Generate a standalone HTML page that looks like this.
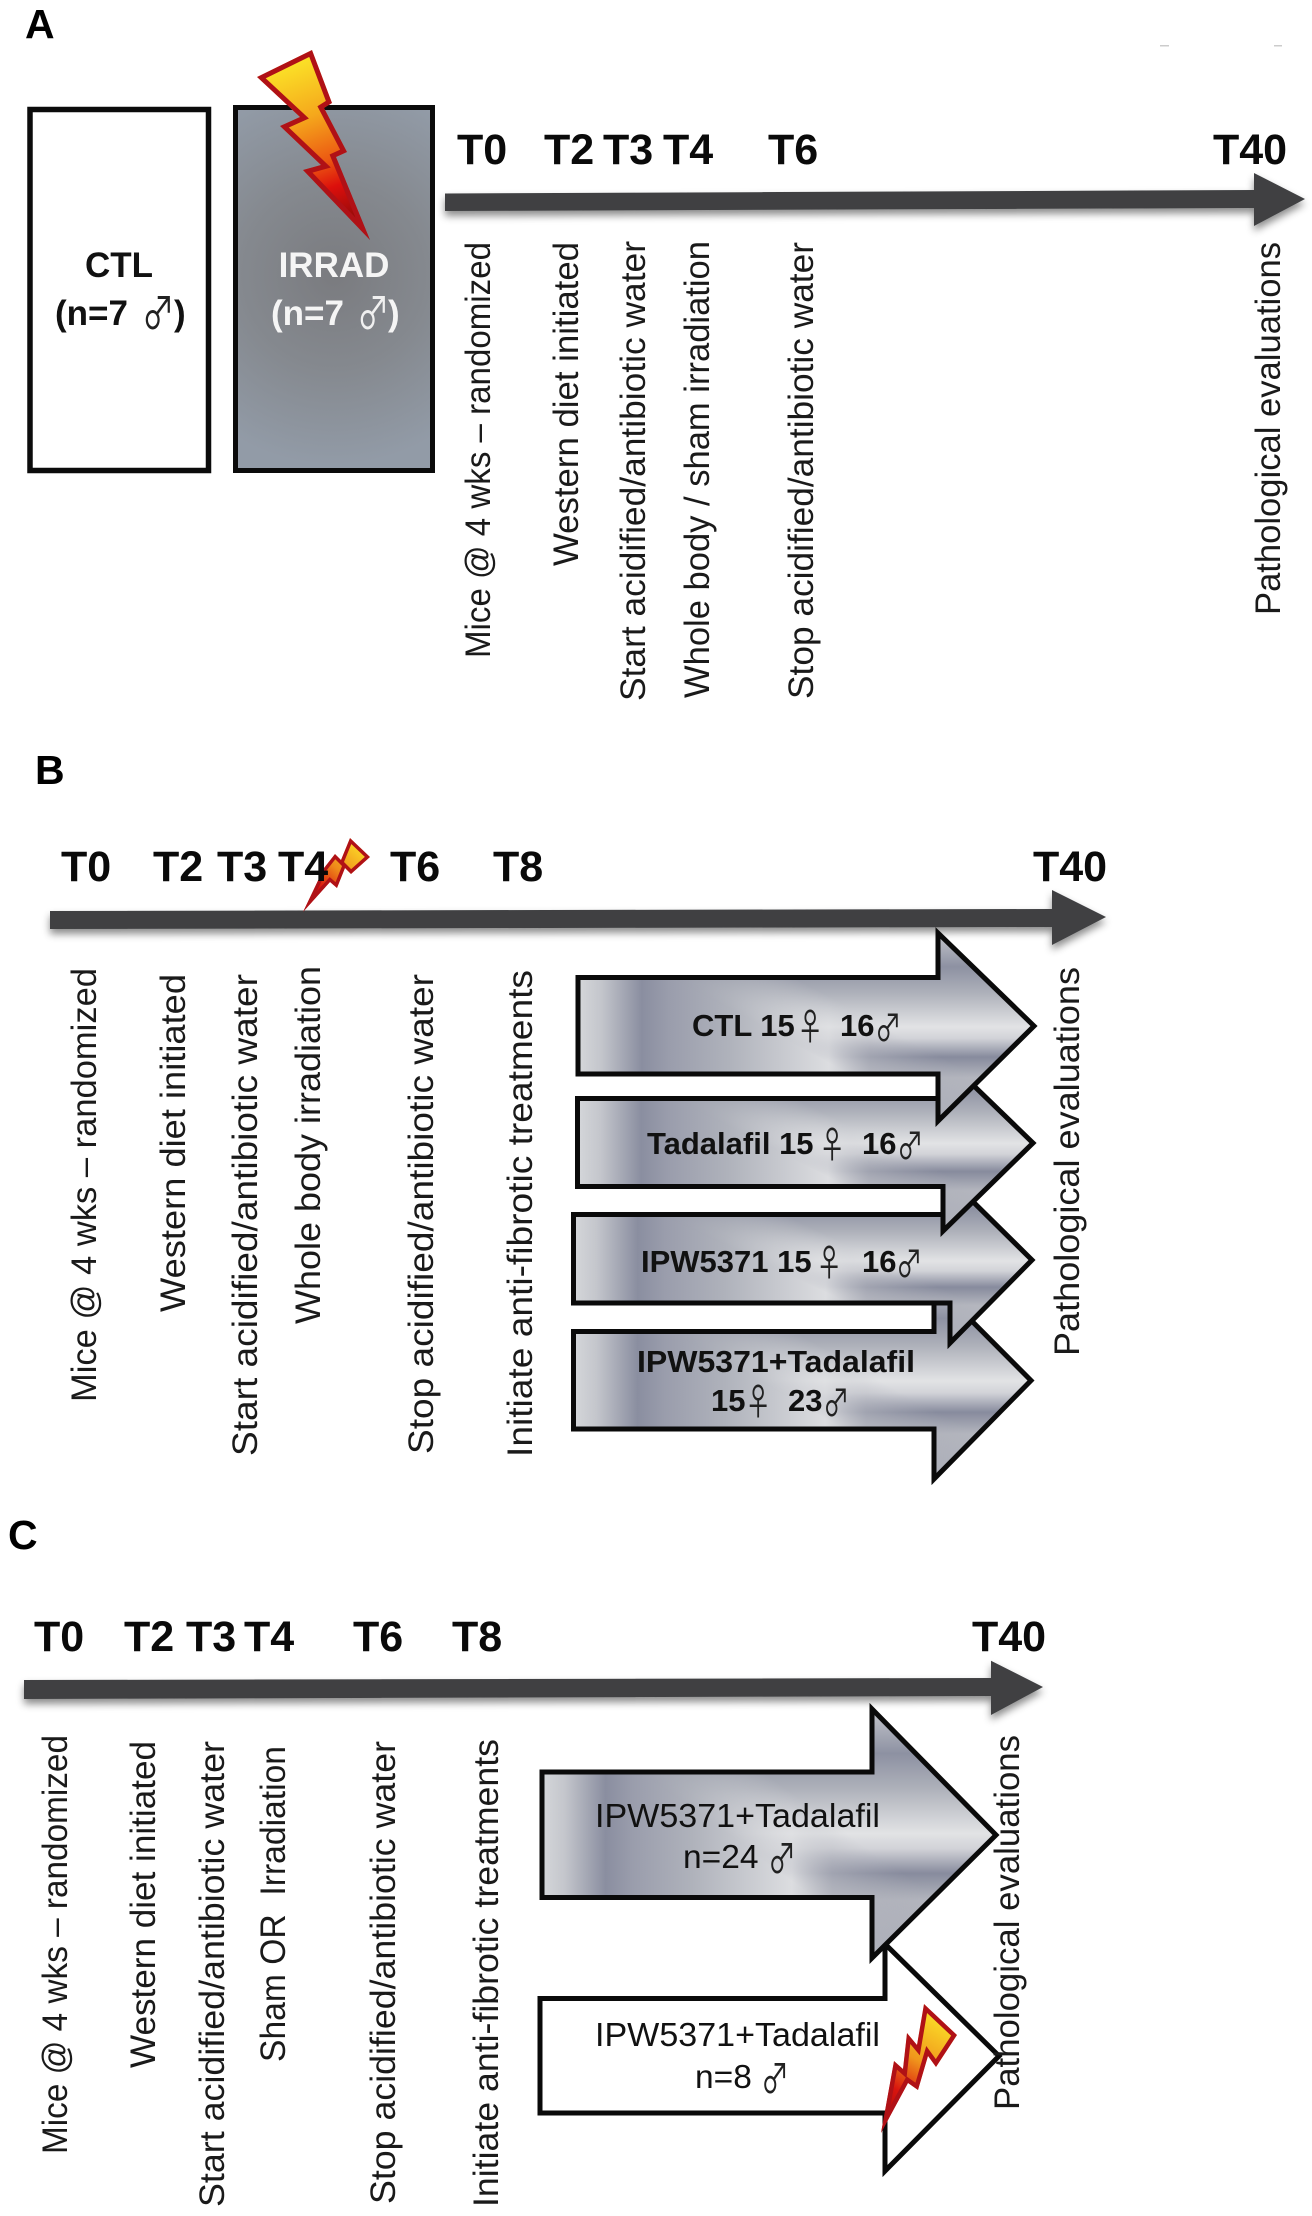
<!DOCTYPE html>
<html><head><meta charset="utf-8"><title>Study timeline</title>
<style>
html,body{margin:0;padding:0;background:#fff;width:1312px;height:2216px;overflow:hidden}
svg{display:block}
text{font-family:"Liberation Sans",Arial,sans-serif;fill:#111}
.h{font-weight:bold;font-size:43px;fill:#0a0a0a}
.p{font-weight:bold;font-size:41px;fill:#000}
.r{font-size:35.5px;fill:#1a1a1a}
.b{font-weight:bold;font-size:31px}
.n{font-size:33.5px}
.s{font-family:"Noto Sans CJK JP","DejaVu Sans",sans-serif;font-size:31px;fill:#222}
</style></head><body>
<svg xmlns="http://www.w3.org/2000/svg" width="1312" height="2216" viewBox="0 0 1312 2216">
<defs>
<linearGradient id="base" x1="0" y1="0" x2="1" y2="0">
<stop offset="0" stop-color="#d5d7da"/><stop offset=".05" stop-color="#c4c6cc"/><stop offset=".14" stop-color="#8a8ea0"/><stop offset=".2" stop-color="#9a9dac"/><stop offset=".33" stop-color="#afb2bb"/><stop offset=".55" stop-color="#dcdde0"/><stop offset=".64" stop-color="#b4b6bf"/><stop offset="1" stop-color="#a0a3af"/>
</linearGradient>
<linearGradient id="vert" x1="0" y1="0" x2="0" y2="1">
<stop offset="0" stop-color="#c4c6cc"/><stop offset=".18" stop-color="#8d91a2"/><stop offset=".32" stop-color="#aeb1ba"/><stop offset=".5" stop-color="#e2e3e5"/><stop offset=".56" stop-color="#d2d3d8"/><stop offset=".66" stop-color="#878b9d"/><stop offset=".77" stop-color="#b4b6be"/><stop offset=".9" stop-color="#b6b8c0"/><stop offset="1" stop-color="#c4c6cc"/>
</linearGradient>
<linearGradient id="mg" x1=".45" y1=".56" x2=".62" y2=".43">
<stop offset="0" stop-color="#000"/><stop offset="1" stop-color="#fff"/>
</linearGradient>
<mask id="m" maskUnits="objectBoundingBox" maskContentUnits="objectBoundingBox" x="0" y="0" width="1" height="1">
<rect x="0" y="0" width="1" height="1" fill="url(#mg)"/>
</mask>
<radialGradient id="irr" gradientUnits="userSpaceOnUse" cx="334" cy="275" r="190">
<stop offset="0" stop-color="#7a7b7f"/><stop offset=".5" stop-color="#85898f"/><stop offset="1" stop-color="#929ba7"/>
</radialGradient>
<linearGradient id="bolt" gradientUnits="userSpaceOnUse" x1="300" y1="60" x2="365" y2="235">
<stop offset="0" stop-color="#fbe127"/><stop offset=".3" stop-color="#f5a81c"/><stop offset=".55" stop-color="#ec5a12"/><stop offset=".7" stop-color="#dc0f0c"/><stop offset="1" stop-color="#6f0909"/>
</linearGradient>
<linearGradient id="bolt2" gradientUnits="userSpaceOnUse" x1="360" y1="845" x2="306" y2="908">
<stop offset="0" stop-color="#fbd827"/><stop offset=".4" stop-color="#ef8a1a"/><stop offset=".7" stop-color="#d9140e"/><stop offset="1" stop-color="#a00c0c"/>
</linearGradient>
<linearGradient id="bolt3" gradientUnits="userSpaceOnUse" x1="945" y1="2020" x2="885" y2="2125">
<stop offset="0" stop-color="#fbdd27"/><stop offset=".4" stop-color="#f0961c"/><stop offset=".7" stop-color="#d9140e"/><stop offset="1" stop-color="#a50c0c"/>
</linearGradient>
<clipPath id="c1"><polygon points="312,50 332,103 324,108 347,152 336,157 370,240 303,170 321,165 280,126 300,117 257,77"/></clipPath>
<clipPath id="c2"><polygon points="350,838 370,857 351,874 345,868 337,888 330,882 303,912 324,868 335,854 341,860"/></clipPath>
<clipPath id="c3"><polygon points="924,2004 957,2035 936,2067 928,2056 918,2090 908,2083 881,2133 894,2061 903,2069 907,2033 917,2045"/></clipPath>
<filter id="sh" x="-5%" y="-60%" width="110%" height="240%"><feDropShadow dx="0" dy="5" stdDeviation="4" flood-color="#000" flood-opacity=".45"/></filter>
<polygon id="a1" points="578,977.5 938,977.5 938,933 1034,1026 938,1121 938,1074 578,1074"/>
<polygon id="a2" points="577.5,1098.5 943,1098.5 943,1056 1033,1143 943,1231 943,1186.5 577.5,1186.5"/>
<polygon id="a3" points="573.5,1214.5 950,1214.5 950,1179 1032,1260 950,1343 950,1303 573.5,1303"/>
<polygon id="a4" points="573.5,1331.5 934,1331.5 934,1283 1031,1380.5 934,1479 934,1429 573.5,1429"/>
<polygon id="a5" points="542,1772 872,1772 872,1709 996,1835 872,1958 872,1897.5 542,1897.5"/>
</defs>
<rect width="1312" height="2216" fill="#fff"/>

<rect x="1160" y="45" width="9" height="1.5" fill="#ccc"/><rect x="1274" y="45" width="8" height="1.5" fill="#ccc"/>

<!-- PANEL A -->
<text class="p" x="25" y="38">A</text>
<rect x="30" y="109.5" width="178.5" height="361" fill="#fff" stroke="#0b0b0b" stroke-width="5.5"/>
<rect x="235.5" y="107.5" width="197" height="363" fill="url(#irr)" stroke="#0b0b0b" stroke-width="5"/>
<g clip-path="url(#c1)"><polygon points="312,50 332,103 324,108 347,152 336,157 370,240 303,170 321,165 280,126 300,117 257,77" fill="url(#bolt)" stroke="#b01116" stroke-width="10"/></g>
<text x="119" y="277" text-anchor="middle" font-weight="bold" font-size="35">CTL</text>
<text x="55" y="325" font-weight="bold" font-size="35">(n=7</text>
<text class="s" transform="translate(142,329) scale(.95,1.3)" style="font-size:34px">♂</text>
<text x="174" y="325" font-weight="bold" font-size="35">)</text>
<text x="334" y="277" text-anchor="middle" font-weight="bold" font-size="35" style="fill:#f5f5f5">IRRAD</text>
<text x="271" y="325" font-weight="bold" font-size="35" style="fill:#f5f5f5">(n=7</text>
<text class="s" transform="translate(357,329) scale(.95,1.3)" style="font-size:34px;fill:#f0f0f0">♂</text>
<text x="388" y="325" font-weight="bold" font-size="35" style="fill:#f5f5f5">)</text>

<text class="h" x="457" y="164">T0</text><text class="h" x="544" y="164">T2</text><text class="h" x="603" y="164">T3</text><text class="h" x="663" y="164">T4</text><text class="h" x="768" y="164">T6</text><text class="h" x="1213" y="164">T40</text>
<polygon filter="url(#sh)" fill="#3f4143" points="445,193.5 1254,190 1254,173 1305,199 1254,226 1254,208 445,211"/>

<text class="r" transform="translate(490,658) rotate(-90)" textLength="416" lengthAdjust="spacingAndGlyphs">Mice @ 4 wks – randomized</text>
<text class="r" transform="translate(578,566) rotate(-90)" textLength="324" lengthAdjust="spacingAndGlyphs">Western diet initiated</text>
<text class="r" transform="translate(645,701) rotate(-90)" textLength="460" lengthAdjust="spacingAndGlyphs">Start acidified/antibiotic water</text>
<text class="r" transform="translate(709,698) rotate(-90)" textLength="457" lengthAdjust="spacingAndGlyphs">Whole body / sham irradiation</text>
<text class="r" transform="translate(813,699) rotate(-90)" textLength="457" lengthAdjust="spacingAndGlyphs">Stop acidified/antibiotic water</text>
<text class="r" transform="translate(1280,615) rotate(-90)" textLength="373" lengthAdjust="spacingAndGlyphs">Pathological evaluations</text>

<!-- PANEL B -->
<text class="p" x="35" y="784">B</text>
<polygon filter="url(#sh)" fill="#3f4143" points="50,911 1052,909 1052,890 1106,917 1052,945 1052,927 50,929"/>
<g clip-path="url(#c2)"><polygon points="350,838 370,857 351,874 345,868 337,888 330,882 303,912 324,868 335,854 341,860" fill="url(#bolt2)" stroke="#b01116" stroke-width="7"/></g>
<text class="h" x="61" y="881">T0</text><text class="h" x="153" y="881">T2</text><text class="h" x="217" y="881">T3</text><text class="h" x="278" y="881">T4</text><text class="h" x="390" y="881">T6</text><text class="h" x="493" y="881">T8</text><text class="h" x="1033" y="881">T40</text>

<text class="r" transform="translate(96,1402) rotate(-90)" textLength="434" lengthAdjust="spacingAndGlyphs">Mice @ 4 wks – randomized</text>
<text class="r" transform="translate(185,1312) rotate(-90)" textLength="338" lengthAdjust="spacingAndGlyphs">Western diet initiated</text>
<text class="r" transform="translate(257,1456) rotate(-90)" textLength="482" lengthAdjust="spacingAndGlyphs">Start acidified/antibiotic water</text>
<text class="r" transform="translate(320,1324) rotate(-90)" textLength="358" lengthAdjust="spacingAndGlyphs">Whole body irradiation</text>
<text class="r" transform="translate(433,1454) rotate(-90)" textLength="480" lengthAdjust="spacingAndGlyphs">Stop acidified/antibiotic water</text>
<text class="r" transform="translate(532,1457) rotate(-90)" textLength="487" lengthAdjust="spacingAndGlyphs">Initiate anti-fibrotic treatments</text>
<text class="r" transform="translate(1079,1356) rotate(-90)" textLength="389" lengthAdjust="spacingAndGlyphs">Pathological evaluations</text>

<g stroke-linejoin="miter" stroke-miterlimit="10">
<use href="#a4" fill="url(#base)"/><use href="#a4" fill="url(#vert)" mask="url(#m)"/><use href="#a4" fill="none" stroke="#0a0a0a" stroke-width="5"/>
<use href="#a3" fill="url(#base)"/><use href="#a3" fill="url(#vert)" mask="url(#m)"/><use href="#a3" fill="none" stroke="#0a0a0a" stroke-width="5"/>
<use href="#a2" fill="url(#base)"/><use href="#a2" fill="url(#vert)" mask="url(#m)"/><use href="#a2" fill="none" stroke="#0a0a0a" stroke-width="5"/>
<use href="#a1" fill="url(#base)"/><use href="#a1" fill="url(#vert)" mask="url(#m)"/><use href="#a1" fill="none" stroke="#0a0a0a" stroke-width="5"/>
</g>

<text class="b" x="692" y="1036">CTL 15</text><text class="s" transform="translate(797,1040) scale(.85,1.2)">♀</text><text class="b" x="840" y="1036">16</text><text class="s" transform="translate(875,1041) scale(.85,1.2)">♂</text>
<text class="b" x="647" y="1154">Tadalafil 15</text><text class="s" transform="translate(819,1158) scale(.85,1.2)">♀</text><text class="b" x="862" y="1154">16</text><text class="s" transform="translate(897,1159) scale(.85,1.2)">♂</text>
<text class="b" x="641" y="1272">IPW5371 15</text><text class="s" transform="translate(816,1276) scale(.85,1.2)">♀</text><text class="b" x="862" y="1272">16</text><text class="s" transform="translate(896,1277) scale(.85,1.2)">♂</text>
<text class="b" x="637" y="1372" textLength="278" lengthAdjust="spacingAndGlyphs">IPW5371+Tadalafil</text>
<text class="b" x="711" y="1411">15</text><text class="s" transform="translate(745,1415) scale(.85,1.2)">♀</text><text class="b" x="788" y="1411">23</text><text class="s" transform="translate(823,1416) scale(.85,1.2)">♂</text>

<!-- PANEL C -->
<text class="p" x="8" y="1549">C</text>
<text class="h" x="34" y="1651">T0</text><text class="h" x="124" y="1651">T2</text><text class="h" x="186" y="1651">T3</text><text class="h" x="244" y="1651">T4</text><text class="h" x="353" y="1651">T6</text><text class="h" x="452" y="1651">T8</text><text class="h" x="972" y="1651">T40</text>
<polygon filter="url(#sh)" fill="#3f4143" points="24,1680 991,1678 991,1660.7 1043,1687 991,1715 991,1696 24,1699"/>

<text class="r" transform="translate(67,2154) rotate(-90)" textLength="419" lengthAdjust="spacingAndGlyphs">Mice @ 4 wks – randomized</text>
<text class="r" transform="translate(155,2068) rotate(-90)" textLength="327" lengthAdjust="spacingAndGlyphs">Western diet initiated</text>
<text class="r" transform="translate(224,2207) rotate(-90)" textLength="466" lengthAdjust="spacingAndGlyphs">Start acidified/antibiotic water</text>
<text class="r" transform="translate(285,2062) rotate(-90)" textLength="316" lengthAdjust="spacingAndGlyphs" xml:space="preserve">Sham OR  Irradiation</text>
<text class="r" transform="translate(395,2204) rotate(-90)" textLength="463" lengthAdjust="spacingAndGlyphs">Stop acidified/antibiotic water</text>
<text class="r" transform="translate(498,2207) rotate(-90)" textLength="468" lengthAdjust="spacingAndGlyphs">Initiate anti-fibrotic treatments</text>

<g stroke-linejoin="miter" stroke-miterlimit="10">
<polygon points="540,1998.5 885,1998.5 885,1944 999,2056 885,2171 885,2113 540,2113" fill="#fff" stroke="#0a0a0a" stroke-width="5"/>
<use href="#a5" fill="url(#base)"/><use href="#a5" fill="url(#vert)" mask="url(#m)"/><use href="#a5" fill="none" stroke="#0a0a0a" stroke-width="5"/>
</g>
<g clip-path="url(#c3)"><polygon points="924,2004 957,2035 936,2067 928,2056 918,2090 908,2083 881,2133 894,2061 903,2069 907,2033 917,2045" fill="url(#bolt3)" stroke="#b01116" stroke-width="9"/></g>

<text class="n" x="595" y="1827" textLength="285" lengthAdjust="spacingAndGlyphs">IPW5371+Tadalafil</text>
<text class="n" x="683" y="1868">n=24</text><text class="s" transform="translate(768,1873) scale(.9,1.3)">♂</text>
<text class="n" x="595" y="2046" textLength="285" lengthAdjust="spacingAndGlyphs">IPW5371+Tadalafil</text>
<text class="n" x="695" y="2088">n=8</text><text class="s" transform="translate(761,2093) scale(.9,1.3)">♂</text>

<text class="r" transform="translate(1019,2110) rotate(-90)" textLength="375" lengthAdjust="spacingAndGlyphs">Pathological evaluations</text>
</svg>
</body></html>
